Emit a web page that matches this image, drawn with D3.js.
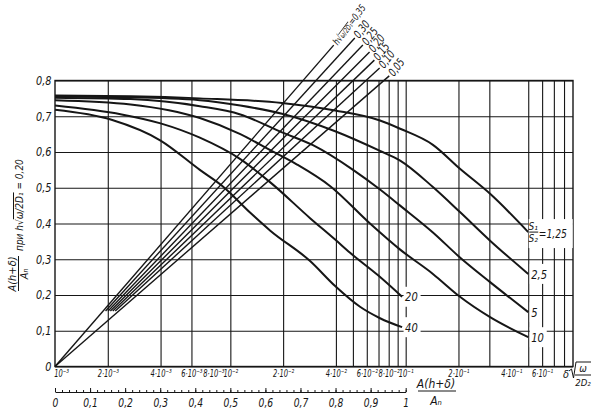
<!DOCTYPE html>
<html><head><meta charset="utf-8">
<script src="https://cdn.jsdelivr.net/npm/d3@7/dist/d3.min.js"></script>
<style>
body{margin:0;background:#fff}
svg{display:block;background:#fff}
text{font-family:"Liberation Sans Narrow","DejaVu Sans Condensed","Liberation Sans",sans-serif;font-style:italic;fill:#151515}
</style></head><body>
<svg id="chart" width="605" height="412"></svg>
<script>
// ---------- data ----------
const yTicks=[0,0.1,0.2,0.3,0.4,0.5,0.6,0.7,0.8];
const yTickLabels=["0","0,1","0,2","0,3","0,4","0,5","0,6","0,7","0,8"];
const gridX=[2e-3,4e-3,6e-3,1e-2,2e-2,4e-2,5e-2,6e-2,7e-2,8e-2,9e-2,1e-1,2e-1,3e-1,5e-1,6e-1,7e-1,8e-1];
const topTickValues=[1e-3,2e-3,4e-3,6e-3,8e-3,1e-2,2e-2,4e-2,6e-2,8e-2,1e-1,2e-1,4e-1,6e-1];
const topTickLabels=["10⁻³","2·10⁻³","4·10⁻³","6·10⁻³","8·10⁻³","10⁻²","2·10⁻²","4·10⁻²","6·10⁻²","8·10⁻²","10⁻¹","2·10⁻¹","4·10⁻¹","6·10⁻¹"];
const linTicks=[0,0.1,0.2,0.3,0.4,0.5,0.6,0.7,0.8,0.9,1];
const linTickLabels=["0","0,1","0,2","0,3","0,4","0,5","0,6","0,7","0,8","0,9","1"];

// S1/S2 curves: [δ√(ω/2D2), A(h+δ)/An]
const ratioLabels=["1,25","2,5","5","10","20","40"];
const s125=[[0.001,0.758],[0.0027,0.756],[0.0067,0.750],[0.0197,0.737],[0.0396,0.716],[0.0714,0.688],[0.093,0.665],[0.143,0.62],[0.204,0.553],[0.303,0.483],[0.5,0.376]];
const s25=[[0.001,0.755],[0.0027,0.753],[0.0067,0.745],[0.0114,0.73],[0.0197,0.707],[0.0396,0.658],[0.0714,0.603],[0.093,0.576],[0.143,0.502],[0.204,0.432],[0.303,0.352],[0.5,0.259]];
const s5=[[0.001,0.752],[0.0027,0.748],[0.0067,0.728],[0.0114,0.705],[0.0197,0.655],[0.0296,0.619],[0.0501,0.55],[0.0714,0.495],[0.093,0.45],[0.143,0.375],[0.204,0.305],[0.303,0.236],[0.5,0.152]];
const s10=[[0.001,0.745],[0.0027,0.733],[0.0067,0.695],[0.0114,0.65],[0.0169,0.605],[0.024,0.565],[0.037,0.505],[0.0626,0.40],[0.093,0.327],[0.143,0.259],[0.204,0.195],[0.303,0.138],[0.5,0.082]];
const s20=[[0.001,0.73],[0.0024,0.705],[0.004,0.68],[0.0067,0.64],[0.0114,0.58],[0.0169,0.515],[0.0285,0.415],[0.0396,0.355],[0.0482,0.318],[0.0696,0.255],[0.0954,0.195]];
const s40=[[0.001,0.718],[0.0021,0.69],[0.004,0.632],[0.0067,0.55],[0.009,0.505],[0.013,0.43],[0.0169,0.38],[0.0285,0.295],[0.0396,0.225],[0.0549,0.167],[0.0714,0.135],[0.0954,0.11]];

// h√(ω/2D1) lines: slope on the linear A(h+δ)/An scale
const fanLabels=["0,35","0,30","0,25","0,20","0,15","0,10","0,05"];
const fanSlopes=[1.131,1.075,1.024,0.981,0.941,0.902,0.853];
const fanTop=[0.899,0.919,0.899,0.880,0.857,0.835,0.813];
const fanBottom=[0,0.155,0.155,0.155,0.155,0.155,0];

// ---------- drawing ----------
const svg=d3.select("#chart");
const ink="#161616";
const x=d3.scaleLog().domain([1e-3,0.9]).range([55,573]);
const y=d3.scaleLinear().domain([0,0.8]).range([366.5,80.5]);
const u=d3.scaleLinear().domain([0,1]).range([55,x(0.1)]);
const plotW=x(0.9)-x(1e-3), plotH=y(0)-y(0.8);

// vertical grid
const gx=svg.append("g").attr("transform",`translate(0,${y(0)})`)
  .call(d3.axisBottom(x).tickValues(gridX).tickSize(-plotH).tickFormat(""));
gx.select(".domain").remove();
gx.selectAll("line").attr("stroke",ink).attr("stroke-width",1.1);

// horizontal grid + y labels
const gy=svg.append("g").attr("transform",`translate(${x(1e-3)},0)`)
  .call(d3.axisLeft(y).tickValues(yTicks).tickSize(-plotW).tickPadding(4).tickFormat((d,i)=>yTickLabels[i]));
gy.attr("font-size",12);
gy.select(".domain").remove();
gy.selectAll("line").attr("stroke",ink).attr("stroke-width",1.1);
gy.selectAll("text").attr("transform","scale(0.9,1)");

// frame
svg.append("rect").attr("x",x(1e-3)).attr("y",y(0.8)).attr("width",plotW).attr("height",plotH)
  .attr("fill","none").attr("stroke",ink).attr("stroke-width",1.4);

// top (log) tick labels
const gt=svg.append("g").attr("transform",`translate(0,${y(0)})`)
  .call(d3.axisBottom(x).tickValues(topTickValues).tickSize(0).tickPadding(3).tickFormat((d,i)=>topTickLabels[i]));
gt.attr("font-size",11);
gt.select(".domain").remove();
gt.selectAll("text").attr("transform","scale(0.68,1)");
gt.selectAll("text").filter((d,i)=>i===0).attr("text-anchor","start").attr("x",-2);

// linear axis 0..1
const linY=392;
const gl=svg.append("g").attr("transform",`translate(0,${linY})`)
  .call(d3.axisBottom(u).tickValues(linTicks).tickSize(-4).tickSizeOuter(0).tickPadding(6).tickFormat((d,i)=>linTickLabels[i]));
gl.attr("font-size",12);
gl.select(".domain").attr("stroke",ink).attr("stroke-width",1.1);
gl.selectAll("line").attr("stroke",ink);
gl.selectAll("text").attr("transform","scale(0.85,1)");
const gm=svg.append("g").attr("transform",`translate(0,${linY})`)
  .call(d3.axisBottom(u).tickValues(d3.range(0,1.001,0.02)).tickSize(-2).tickSizeOuter(0).tickFormat(""));
gm.select(".domain").remove();
gm.selectAll("line").attr("stroke",ink);

// curves
const lineGen=d3.line().x(d=>x(d[0])).y(d=>y(d[1])).curve(d3.curveMonotoneX);
const series=[s125,s25,s5,s10,s20,s40];
series.forEach(s=>svg.append("path").attr("d",lineGen(s)).attr("fill","none")
  .attr("stroke",ink).attr("stroke-width",2).attr("stroke-linejoin","round"));

// fan lines
fanSlopes.forEach((k,i)=>{
  const x0=u(fanBottom[i]/k), y0=y(fanBottom[i]);
  const x1=u(fanTop[i]/k), y1=y(fanTop[i]);
  svg.append("line").attr("x1",x0).attr("y1",y0).attr("x2",x1).attr("y2",y1)
    .attr("stroke",ink).attr("stroke-width",1.4);
  const dx=x1-x0, dy=y1-y0, L=Math.hypot(dx,dy);
  const lx=x1+dx/L*2, ly=y1+dy/L*2;
  const t=svg.append("text").attr("transform",`translate(${lx},${ly}) rotate(-53) scale(0.8,1)`)
    .attr("dy","0.35em").attr("font-size",i===0?10:11.5);
  if(i===0){
    t.append("tspan").text("h√");
    t.append("tspan").attr("font-size",7.5).attr("text-decoration","overline").text("ω/2D₁");
    t.append("tspan").text("=");
  }
  t.append("tspan").text(fanLabels[i]);
});

// curve end labels
series.forEach((s,i)=>{
  const e=s[s.length-1], px=x(e[0]), py=y(e[1]);
  if(i===0){
    svg.append("rect").attr("x",px+0.5).attr("y",py-13).attr("width",44).attr("height",29).attr("fill","#fff");
    svg.append("text").attr("x",px+5).attr("y",py-2.5).attr("text-anchor","middle").attr("font-size",10).text("S₁");
    svg.append("line").attr("x1",px+1).attr("x2",px+10).attr("y1",py).attr("y2",py).attr("stroke",ink);
    svg.append("text").attr("x",px+5).attr("y",py+10).attr("text-anchor","middle").attr("font-size",10).text("S₂");
    svg.append("text").attr("transform",`translate(${px+10.5},${py+6}) scale(0.85,1)`).attr("font-size",12).text("="+ratioLabels[i]);
  } else {
    const w=ratioLabels[i].length*6+5;
    svg.append("rect").attr("x",px+1.5).attr("y",py-10).attr("width",w).attr("height",20).attr("fill","#fff");
    svg.append("text").attr("transform",`translate(${px+3},${py}) scale(0.85,1)`).attr("dy","0.36em").attr("font-size",13).text(ratioLabels[i]);
  }
});

// y axis title
const yt=svg.append("g").attr("transform","translate(18,293) rotate(-90)");
yt.append("text").attr("x",19).attr("y",-2).attr("text-anchor","middle").attr("font-size",11).text("A(h+δ)");
yt.append("line").attr("x1",2).attr("x2",37).attr("y1",0.5).attr("y2",0.5).attr("stroke",ink);
yt.append("text").attr("x",19).attr("y",10).attr("text-anchor","middle").attr("font-size",11).text("Aₙ");
const yt2=yt.append("text").attr("x",42).attr("y",5).attr("font-size",10);
yt2.append("tspan").text("при h√");
yt2.append("tspan").attr("text-decoration","overline").text("ω/2D₁");
yt2.append("tspan").text(" = 0,20");

// x title (fraction)
svg.append("text").attr("x",436).attr("y",388).attr("text-anchor","middle").attr("font-size",12).text("A(h+δ)");
svg.append("line").attr("x1",418).attr("x2",456).attr("y1",391).attr("y2",391).attr("stroke",ink);
svg.append("text").attr("x",436).attr("y",405).attr("text-anchor","middle").attr("font-size",12).text("Aₙ");

// δ√(ω/2D2)
svg.append("text").attr("x",563).attr("y",378).attr("font-size",11).text("δ");
svg.append("path").attr("d","M569,371 L571.5,369 L573.5,378 L576,362 L591,362").attr("fill","none").attr("stroke",ink).attr("stroke-width",1);
svg.append("text").attr("x",583).attr("y",372).attr("text-anchor","middle").attr("font-size",10).text("ω");
svg.append("line").attr("x1",575).attr("x2",591).attr("y1",375).attr("y2",375).attr("stroke",ink);
svg.append("text").attr("x",583).attr("y",386).attr("text-anchor","middle").attr("font-size",9.5).text("2D₂");
</script>
</body></html>
